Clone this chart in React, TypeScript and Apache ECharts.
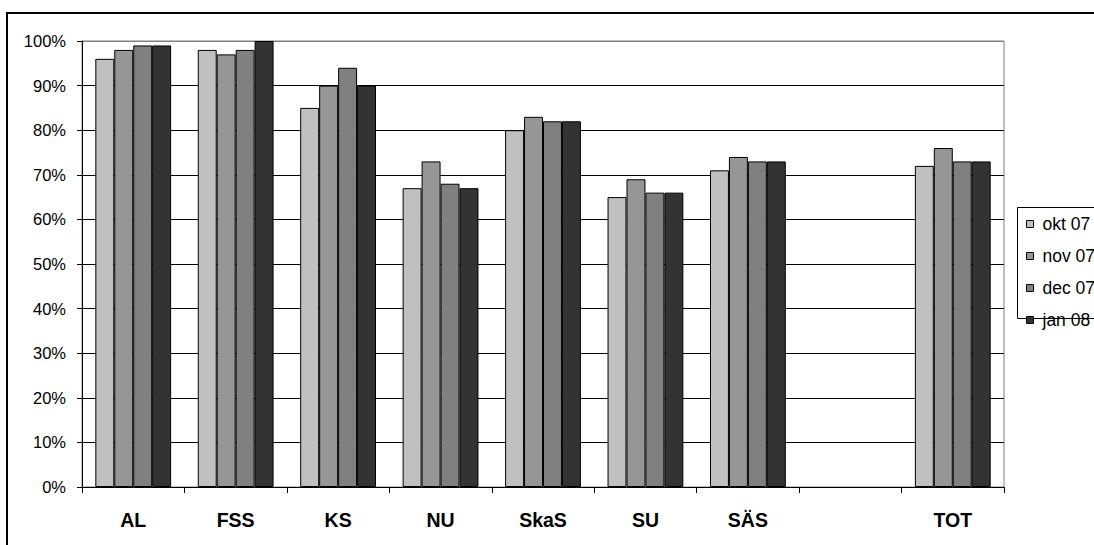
import React, { useEffect, useRef } from "react";
import * as echarts from "echarts";

const categories = ["AL", "FSS", "KS", "NU", "SkaS", "SU", "SÄS", "", "TOT"];
const seriesNames = ["okt 07", "nov 07", "dec 07", "jan 08"];
const okt07 = [96, 98, 85, 67, 80, 65, 71, null, 72];
const nov07 = [98, 97, 90, 73, 83, 69, 74, null, 76];
const dec07 = [99, 98, 94, 68, 82, 66, 73, null, 73];
const jan08 = [99, 100, 90, 67, 82, 66, 73, null, 73];
const seriesData = [okt07, nov07, dec07, jan08];
const seriesColors = ["#C0C0C0", "#969696", "#808080", "#333333"];
const yTicks = [0, 10, 20, 30, 40, 50, 60, 70, 80, 90, 100];

const FONT = "Arial, 'Liberation Sans', sans-serif";

export default function App() {
  const ref = useRef<HTMLDivElement>(null);
  useEffect(() => {
    if (!ref.current) return;
    const chart = echarts.init(ref.current, undefined, { renderer: "svg" });
    const gridColors = yTicks.map((_, i) => (i === yTicks.length - 1 ? "#808080" : "#000000"));
    chart.setOption({
      animation: false,
      backgroundColor: "#ffffff",
      textStyle: { fontFamily: FONT },
      grid: {
        left: 82,
        right: 90,
        top: 41,
        bottom: 58,
        show: true,
        borderColor: "#808080",
        borderWidth: 1,
        backgroundColor: "transparent",
      },
      legend: {
        orient: "vertical",
        left: 1026,
        top: 215,
        itemWidth: 7,
        itemHeight: 7,
        itemGap: 14,
        icon: "rect",
        padding: 0,
        itemStyle: { borderColor: "#000", borderWidth: 1 },
        textStyle: {
          fontFamily: FONT,
          fontSize: 17.5,
          color: "#000",
          lineHeight: 15,
          padding: [0, 0, 0, 4],
        },
        data: seriesNames,
      },
      graphic: [
        {
          type: "rect",
          shape: { x: 7, y: 13, width: 1200, height: 700 },
          style: { fill: "none", stroke: "#000", lineWidth: 2 },
          silent: true,
        },
        {
          type: "rect",
          shape: { x: 1017.5, y: 207.5, width: 120, height: 111 },
          style: { fill: "none", stroke: "#000", lineWidth: 1 },
          silent: true,
        },
      ],
      xAxis: {
        type: "category",
        data: categories,
        axisLine: { lineStyle: { color: "#000", width: 1 } },
        axisTick: { show: true, length: 6, lineStyle: { color: "#000" } },
        axisLabel: {
          fontFamily: FONT,
          fontSize: 19.5,
          fontWeight: "bold",
          color: "#000",
          margin: 23,
          interval: 0,
        },
        splitLine: { show: false },
      },
      yAxis: {
        type: "value",
        min: 0,
        max: 100,
        interval: 10,
        axisLine: { show: true, lineStyle: { color: "#000", width: 1 } },
        axisTick: { show: true, length: 5, lineStyle: { color: "#000" } },
        axisLabel: {
          fontFamily: FONT,
          fontSize: 16.5,
          color: "#000",
          margin: 16,
          formatter: "{value}%",
        },
        splitLine: { show: true, lineStyle: { color: gridColors, width: 1 } },
      },
      series: seriesNames.map((name, i) => ({
        name,
        type: "bar",
        data: seriesData[i],
        barGap: "0%",
        barCategoryGap: "26%",
        itemStyle: { color: seriesColors[i], borderColor: "#000", borderWidth: 1 },
      })),
    });
    return () => chart.dispose();
  }, []);
  return (
    <div
      ref={ref}
      style={{ position: "absolute", left: 0, top: 0, width: 1094, height: 545 }}
    />
  );
}
